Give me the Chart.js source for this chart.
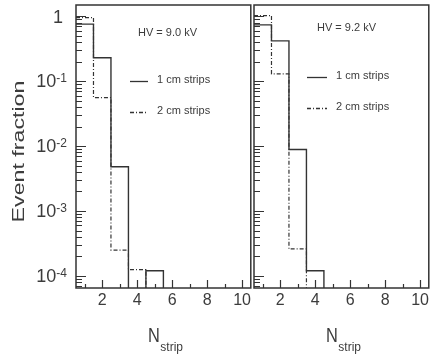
<!DOCTYPE html>
<html>
<head>
<meta charset="utf-8">
<script src="https://cdn.jsdelivr.net/npm/chart.js@4.4.0/dist/chart.umd.min.js"></script>
<style>
  body { margin: 0; background: #fff; }
  #wrap { position: relative; width: 432px; height: 356px; overflow: hidden; }
  canvas { position: absolute; top: 0; }
</style>
</head>
<body>
<div id="wrap">
  <canvas id="left" width="254" height="356" style="left:0"></canvas>
  <canvas id="right" width="179" height="356" style="left:253px"></canvas>
</div>
<script>
// bins: number of fired strips
const nstrip = [1, 2, 3, 4, 5, 6, 7, 8, 9, 10];

// HV = 9.0 kV
const hv90_1cm = [0.76, 0.23, 0.0048, 0, 0.00012, 0, 0, 0, 0, 0];
const hv90_2cm = [0.96, 0.056, 0.00025, 0.000125, 0, 0, 0, 0, 0, 0];

// HV = 9.2 kV
const hv92_1cm = [0.74, 0.42, 0.0089, 0.00012, 0, 0, 0, 0, 0, 0];
const hv92_2cm = [1.03, 0.13, 0.00026, 0, 0, 0, 0, 0, 0, 0];

const xTicks = [2, 4, 6, 8, 10];
const yTicks = [1, 0.1, 0.01, 0.001, 0.0001];
const yTickExp = ['', '-1', '-2', '-3', '-4'];

const INK = '#333';
const TEXT = '#3c3c3c';
const FONT = '"Liberation Sans", Arial, sans-serif';
const DASHDOT = [4, 2, 1, 2];

// histogram outline: each point sits on the left edge of its bin
function histPoints(vals) {
    const pts = nstrip.map((n, i) => ({ x: n - 0.5, y: vals[i] > 0 ? vals[i] : 1e-9 }));
    pts.push({ x: nstrip[nstrip.length - 1] + 0.5, y: 1e-9 });
    return pts;
}

const framePlugin = {
    id: 'frame',
    afterDraw(chart, args, opts) {
        const ctx = chart.ctx;
        const a = chart.chartArea;
        const xs = chart.scales.x, ys = chart.scales.y;
        ctx.save();
        ctx.strokeStyle = INK;
        ctx.fillStyle = TEXT;
        ctx.lineWidth = 1.5;
        ctx.strokeRect(a.left, a.top, a.right - a.left, a.bottom - a.top);

        // inward log ticks on the left edge
        ctx.lineWidth = 1.2;
        ctx.beginPath();
        for (let d = -5; d <= 0; d++) {
            for (let m = 1; m <= 9; m++) {
                const v = m * Math.pow(10, d);
                if (v < ys.min || v > ys.max) continue;
                const py = Math.round(ys.getPixelForValue(v)) + 0.5;
                const len = m === 1 ? 10 : 6;
                ctx.moveTo(a.left, py);
                ctx.lineTo(a.left + len, py);
            }
        }
        // inward ticks on the bottom edge
        nstrip.forEach(n => {
            const px = Math.round(xs.getPixelForValue(n)) + 0.5;
            const len = n % 2 === 0 ? 8 : 4;
            ctx.moveTo(px, a.bottom);
            ctx.lineTo(px, a.bottom - len);
        });
        ctx.stroke();

        // y tick labels with exponents
        if (opts.yLabels) {
            ctx.textAlign = 'right';
            ctx.textBaseline = 'alphabetic';
            yTicks.forEach((v, i) => {
                const py = ys.getPixelForValue(v);
                const right = a.left - 9;
                if (yTickExp[i] === '') {
                    ctx.font = '18px ' + FONT;
                    ctx.fillText('1', right - 4, py + 7);
                } else {
                    ctx.font = '12px ' + FONT;
                    const w = ctx.measureText(yTickExp[i]).width;
                    ctx.fillText(yTickExp[i], right, py + 1);
                    ctx.font = '18px ' + FONT;
                    ctx.fillText('10', right - w, py + 6);
                }
            });
            // axis title, stretched along its length like the original
            ctx.save();
            ctx.font = '16px ' + FONT;
            ctx.translate(23.5, (a.top + a.bottom) / 2 + 5);
            ctx.rotate(-Math.PI / 2);
            ctx.scale(1.45, 1);
            ctx.textAlign = 'center';
            ctx.fillText('Event fraction', 0, 0);
            ctx.restore();
        }

        // x axis title N_strip
        const cx = (a.left + a.right) / 2 + 2;
        ctx.textAlign = 'left';
        ctx.textBaseline = 'alphabetic';
        ctx.font = '12px ' + FONT;
        const sw = ctx.measureText('strip').width;
        const nScale = 0.78;
        ctx.font = '21px ' + FONT;
        const nw = ctx.measureText('N').width * nScale;
        const x0 = Math.round(cx - (nw + sw) / 2);
        ctx.save();
        ctx.translate(x0, a.bottom + 54);
        ctx.scale(nScale, 1);
        ctx.fillText('N', 0, 0);
        ctx.restore();
        ctx.font = '12px ' + FONT;
        ctx.fillText('strip', x0 + nw + 0.5, a.bottom + 63);

        // legend block
        const L = opts.legend;
        ctx.font = '11px ' + FONT;
        ctx.textBaseline = 'middle';
        ctx.fillText(L.title, L.titleX, L.titleY);
        chart.data.datasets.forEach((ds, i) => {
            const y = L.rowY[i];
            ctx.beginPath();
            ctx.setLineDash(ds.borderDash || []);
            ctx.lineWidth = 1.3;
            ctx.moveTo(L.lineX0, y + 0.5);
            ctx.lineTo(L.lineX1, y + 0.5);
            ctx.stroke();
            ctx.setLineDash([]);
            ctx.fillText(ds.label, L.textX, y - 1.5);
        });
        ctx.restore();
    }
};

function makeChart(id, s1, s2, opts) {
    return new Chart(document.getElementById(id), {
        type: 'line',
        data: {
            datasets: [
                { label: '1 cm strips', data: histPoints(s1), borderColor: INK, borderWidth: 1.4,
                  stepped: 'before', pointRadius: 0, fill: false },
                { label: '2 cm strips', data: histPoints(s2), borderColor: INK, borderWidth: 1.2,
                  borderDash: DASHDOT, stepped: 'before', pointRadius: 0, fill: false }
            ]
        },
        options: {
            responsive: false,
            animation: false,
            devicePixelRatio: 1,
            layout: { padding: { top: 5, right: 1, left: opts.padLeft, bottom: 0 } },
            plugins: {
                legend: { display: false },
                tooltip: { enabled: false },
                frame: opts
            },
            scales: {
                x: {
                    type: 'linear', min: 0.5, max: 10.5,
                    afterBuildTicks: s => { s.ticks = xTicks.map(v => ({ value: v })); },
                    afterFit: s => { s.height = 68; },
                    grid: { display: false, drawTicks: false },
                    border: { display: false },
                    ticks: { color: TEXT, font: { family: FONT, size: 16 }, padding: 3,
                             maxRotation: 0, autoSkip: false }
                },
                y: {
                    type: 'logarithmic', min: 6.5e-5, max: 1.5,
                    afterFit: s => { s.width = opts.axisWidth; },
                    grid: { display: false },
                    border: { display: false },
                    ticks: { display: false }
                }
            }
        },
        plugins: [framePlugin]
    });
}

makeChart('left', hv90_1cm, hv90_2cm, {
    padLeft: 0, axisWidth: 76, yLabels: true,
    legend: { title: 'HV = 9.0 kV', titleX: 138, titleY: 33, lineX0: 130, lineX1: 148, textX: 157, rowY: [81, 112] }
});

makeChart('right', hv92_1cm, hv92_2cm, {
    padLeft: 1, axisWidth: 0, yLabels: false,
    legend: { title: 'HV = 9.2 kV', titleX: 64, titleY: 28, lineX0: 54, lineX1: 74, textX: 83, rowY: [77, 108] }
});
</script>
</body>
</html>
